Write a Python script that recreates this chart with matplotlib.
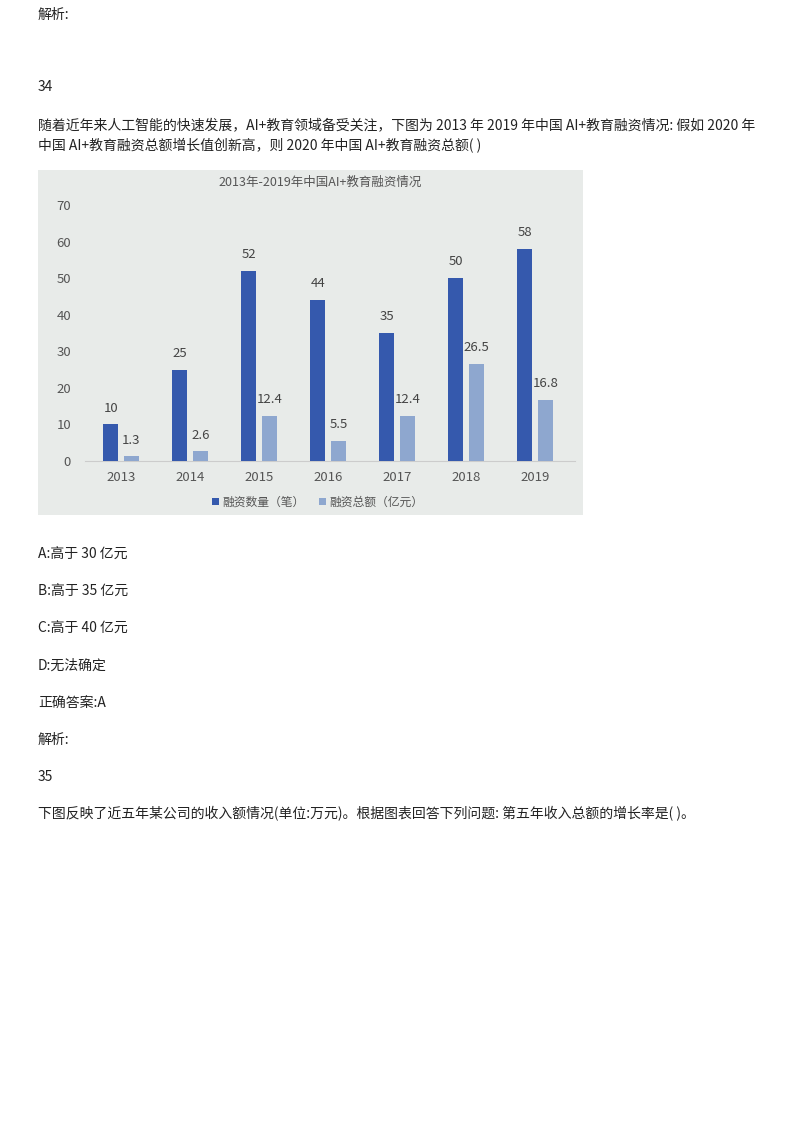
import matplotlib
matplotlib.use("Agg")
import matplotlib.pyplot as plt
from matplotlib.patches import Rectangle, Patch
import numpy as np

plt.rcParams['font.family'] = ['Noto Sans CJK SC', 'DejaVu Sans']

years = ['2013', '2014', '2015', '2016', '2017', '2018', '2019']
deal_count = [10, 25, 52, 44, 35, 50, 58]
deal_amount = [1.3, 2.6, 12.4, 5.5, 12.4, 26.5, 16.8]
amount_labels = ['1.3', '2.6', '12.4', '5.5', '12.4', '26.5', '16.8']
yticks = [0, 10, 20, 30, 40, 50, 60, 70]
series_names = ['融资数量（笔）', '融资总额（亿元）']
chart_title = '2013年-2019年中国AI+教育融资情况'

page_lines = [
    (38, 15, '解析:'),
    (38, 87, '34'),
    (38, 125, '随着近年来人工智能的快速发展，AI+教育领域备受关注，下图为 2013 年 2019 年中国 AI+教育融资情况: 假如 2020 年'),
    (38, 146, '中国 AI+教育融资总额增长值创新高，则 2020 年中国 AI+教育融资总额( )'),
    (38, 555, 'A:高于 30 亿元'),
    (38, 592, 'B:高于 35 亿元'),
    (38, 629, 'C:高于 40 亿元'),
    (38, 666, 'D:无法确定'),
    (38, 703, '正确答案:A'),
    (38, 740, '解析:'),
    (38, 777, '35'),
    (38, 814, '下图反映了近五年某公司的收入额情况(单位:万元)。根据图表回答下列问题: 第五年收入总额的增长率是( )。'),
]

W, H = 800, 1132
fig = plt.figure(figsize=(W / 100, H / 100), dpi=100)
fig.patch.set_facecolor('white')

def fx(px):
    return px / W

def fy(py):
    return 1 - py / H

for x, y, t in page_lines:
    fig.text(fx(x), fy(y), t, fontsize=10, color='#222222', va='center', ha='left')

# chart picture background
bg = Rectangle((fx(38), fy(515)), fx(583) - fx(38), fy(170) - fy(515),
               transform=fig.transFigure, facecolor='#e8ebe9', edgecolor='none', zorder=-5)
fig.patches.append(bg)

ax_left, ax_right, ax_bottom, ax_top = 85, 575, 461, 205
ax = fig.add_axes([fx(ax_left), fy(ax_bottom), fx(ax_right) - fx(ax_left), fy(ax_top) - fy(ax_bottom)])
ax.set_zorder(2)
ax.set_facecolor('none')
x0px, step = 121, 69
ax.set_xlim((ax_left - x0px) / step, (ax_right - x0px) / step)
ax.set_ylim(0, 70)

x = np.arange(len(years))
w = 0.21
off = 0.15
dark = '#3559ad'
light = '#8ea7cf'
ax.bar(x - off, deal_count, width=w, color=dark, zorder=3)
ax.bar(x + off, deal_amount, width=w, color=light, zorder=3)

for xi, v in zip(x, deal_count):
    ax.annotate(str(v), (xi - off, v), xytext=(0, 7), textcoords='offset points',
                ha='center', va='bottom', fontsize=9.5, color='#444444')
for xi, v, lab in zip(x, deal_amount, amount_labels):
    ax.annotate(lab, (xi + off, v), xytext=(0, 7), textcoords='offset points',
                ha='center', va='bottom', fontsize=9.5, color='#444444')

ax.set_yticks(yticks)
ax.set_xticks(x)
ax.set_xticklabels(years)
ax.tick_params(axis='both', length=0, labelsize=9.5, labelcolor='#555555')
ax.tick_params(axis='y', pad=10)
ax.tick_params(axis='x', pad=7)
for s in ['top', 'right', 'left']:
    ax.spines[s].set_visible(False)
ax.spines['bottom'].set_color('#cccccc')
ax.spines['bottom'].set_linewidth(0.8)

fig.text(fx(320), fy(182), chart_title, fontsize=9, color='#555555', ha='center', va='center')

handles = [Patch(facecolor=dark), Patch(facecolor=light)]
fig.legend(handles, series_names, loc='center', bbox_to_anchor=(fx(318), fy(502)), ncol=2,
           frameon=False, fontsize=8.5, handlelength=0.6, handleheight=0.6, handletextpad=0.3,
           columnspacing=1.2, labelcolor='#555555')

fig.savefig('out.png', dpi=100, facecolor='white')
